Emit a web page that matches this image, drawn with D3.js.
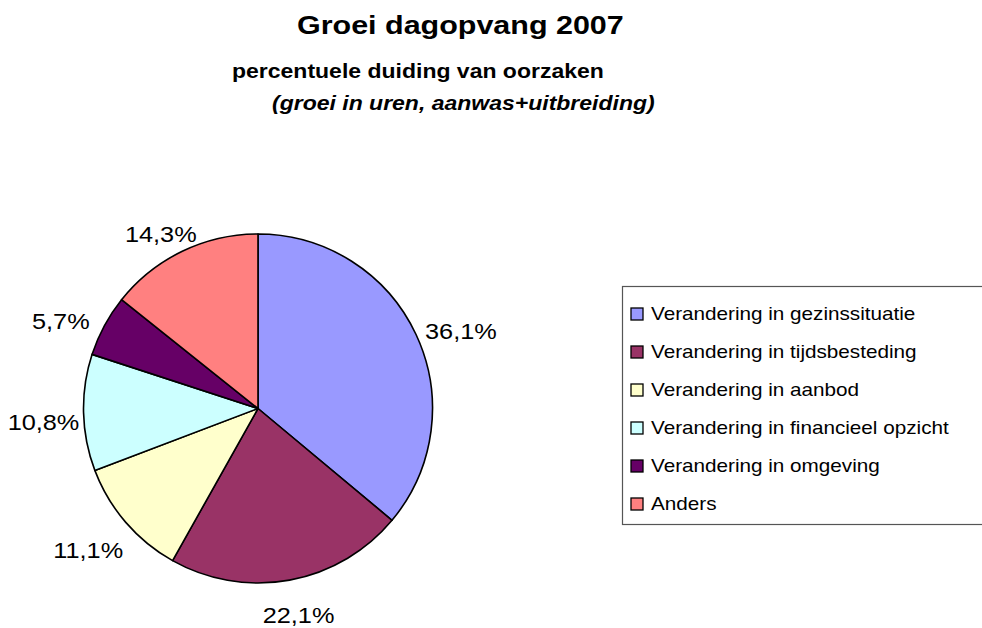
<!DOCTYPE html>
<html>
<head>
<meta charset="utf-8">
<script src="https://cdn.jsdelivr.net/npm/d3@7"></script>
<style>
  body { margin: 0; background: #fff; }
  text { font-family: "Liberation Sans", Arial, sans-serif; fill: #000; }
</style>
</head>
<body>
<div id="chart"></div>
<script>
// size of SVG
var w = 982;
var h = 628;

// data
var categories = ["Verandering in gezinssituatie", "Verandering in tijdsbesteding",
  "Verandering in aanbod", "Verandering in financieel opzicht",
  "Verandering in omgeving", "Anders"];
var values = [36.1, 22.1, 11.1, 10.8, 5.7, 14.3];
var labels = ["36,1%", "22,1%", "11,1%", "10,8%", "5,7%", "14,3%"];
var colors = ["#9999FF", "#993366", "#FFFFCC", "#CCFFFF", "#660066", "#FF8080"];

// text in the picture is a bit wider than plain Arial
var sx = 1.15;

var svg = d3.select("#chart")
  .append("svg")
  .attr("width", w)
  .attr("height", h);

// titles
function stretchedText(x, y, str, size, weight, style) {
  return svg.append("text")
    .attr("transform", "translate(" + x + "," + y + ") scale(" + sx + ",1)")
    .style("font-size", size + "px")
    .style("font-weight", weight)
    .style("font-style", style)
    .text(str);
}
stretchedText(297, 34, "Groei dagopvang 2007", 26.5, "bold", "normal");
stretchedText(232, 78, "percentuele duiding van oorzaken", 20, "bold", "normal");
stretchedText(272, 110, "(groei in uren, aanwas+uitbreiding)", 20, "bold", "italic");

// pie
var cx = 258, cy = 408.5, radius = 174.5;
var pie = d3.pie().sort(null).value(function(d) { return d; });
var arcs = pie(values);
var arc = d3.arc().innerRadius(0).outerRadius(radius);
var color = d3.scaleOrdinal().domain(d3.range(values.length)).range(colors);

var g = svg.append("g").attr("transform", "translate(" + cx + "," + cy + ")");
g.selectAll("path.slice")
  .data(arcs)
  .enter().append("path")
  .attr("class", "slice")
  .attr("d", arc)
  .attr("fill", function(d, i) { return color(i); })
  .attr("stroke", "#000")
  .attr("stroke-width", 1.6)
  .attr("stroke-linejoin", "round");

// percentage labels outside the pie, label box pushed out along the mid angle
var lblW = 71, lblH = 30, gap = 14;
g.selectAll("text.lbl")
  .data(arcs)
  .enter().append("text")
  .attr("class", "lbl")
  .attr("transform", function(d) {
    var a = (d.startAngle + d.endAngle) / 2;
    var ux = Math.sin(a), uy = -Math.cos(a);
    var x = ux * (radius + gap) + ux * lblW / 2;
    var y = uy * (radius + gap) + uy * lblH / 2 + 9;
    // keep the box inside the page
    x = Math.max(x, 8 + lblW / 2 - cx);
    y = Math.min(y, h - cy - 13);
    return "translate(" + x + "," + y + ") scale(" + sx + ",1)";
  })
  .attr("text-anchor", "middle")
  .attr("dy", "0.36em")
  .style("font-size", "22px")
  .text(function(d, i) { return labels[i]; });

// legend
var lx = 622, ly = 286, lh = 238;
svg.append("rect")
  .attr("x", lx + 0.5)
  .attr("y", ly + 0.5)
  .attr("width", 400)
  .attr("height", lh)
  .attr("fill", "#fff")
  .attr("stroke", "#555")
  .attr("stroke-width", 1.2);

var rowY = d3.scalePoint().domain(d3.range(categories.length)).range([314, 504]);
var items = svg.selectAll("g.item")
  .data(categories)
  .enter().append("g")
  .attr("class", "item")
  .attr("transform", function(d, i) { return "translate(" + lx + "," + rowY(i) + ")"; });

items.append("rect")
  .attr("x", 9)
  .attr("y", -6)
  .attr("width", 12)
  .attr("height", 12)
  .attr("fill", function(d, i) { return color(i); })
  .attr("stroke", "#000")
  .attr("stroke-width", 1.3);

items.append("text")
  .attr("transform", "translate(29,0) scale(" + sx + ",1)")
  .attr("dy", "0.36em")
  .style("font-size", "18px")
  .text(function(d) { return d; });
</script>
</body>
</html>
